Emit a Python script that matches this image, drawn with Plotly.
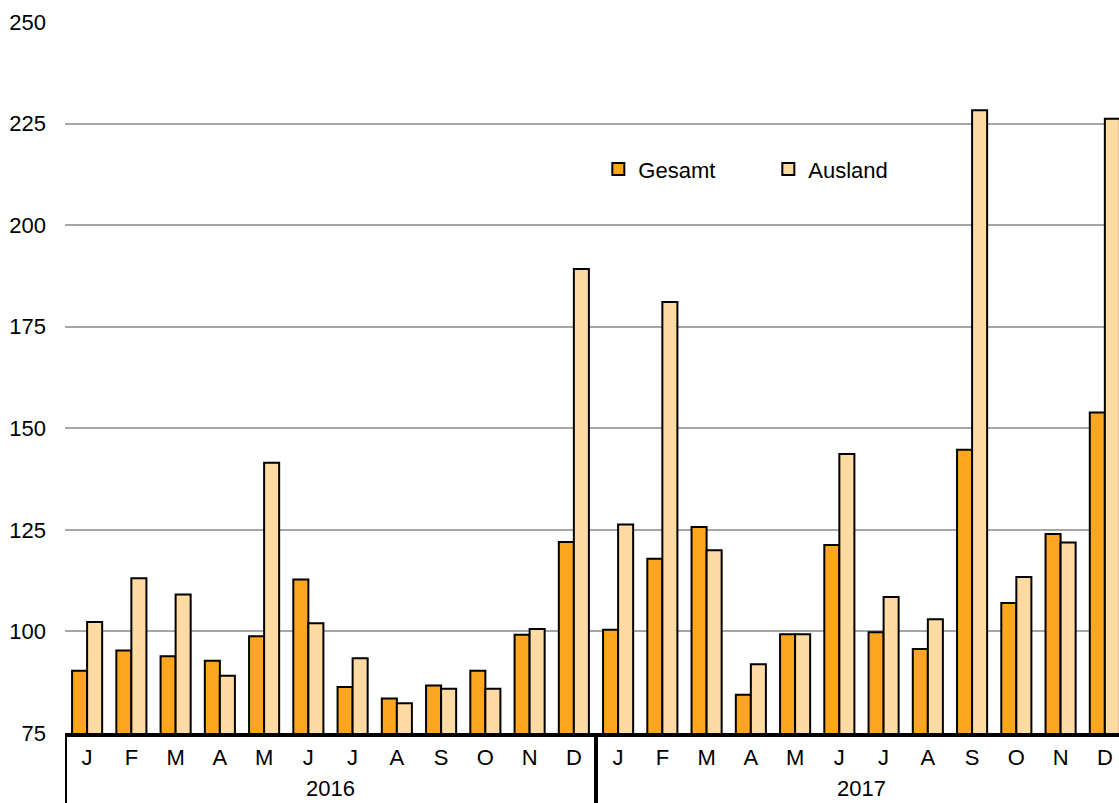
import plotly.graph_objects as go

months = ["J", "F", "M", "A", "M", "J", "J", "A", "S", "O", "N", "D"] * 2
years = ["2016", "2017"]
gesamt = [90.3, 95.3, 93.9, 92.8, 98.8, 112.8, 86.3, 83.5, 86.7, 90.3, 99.2, 122.0,
          100.4, 117.9, 125.7, 84.4, 99.3, 121.3, 99.8, 95.7, 144.7, 107.0, 124.0, 153.9]
ausland = [102.3, 113.1, 109.1, 89.1, 141.5, 102.0, 93.4, 82.3, 85.9, 85.9, 100.6, 189.2,
           126.3, 181.1, 120.0, 91.9, 99.3, 143.7, 108.5, 103.0, 228.3, 113.4, 121.9, 226.2]
y_ticks = [75, 100, 125, 150, 175, 200, 225, 250]

x = list(range(len(months)))
FONT = "Liberation Sans, Arial, sans-serif"

fig = go.Figure()
fig.add_trace(go.Bar(x=x, y=gesamt, name="Gesamt",
                     marker=dict(color="#FFA621", line=dict(color="black", width=2))))
fig.add_trace(go.Bar(x=x, y=ausland, name="Ausland",
                     marker=dict(color="#FFDBA4", line=dict(color="black", width=2))))

fig.update_layout(
    width=1119, height=803,
    margin=dict(l=65, r=0, t=22, b=70),
    paper_bgcolor="white", plot_bgcolor="white",
    barmode="group", bargap=0.32, bargroupgap=0,
    font=dict(family=FONT, size=22, color="black"),
    showlegend=True,
    legend=dict(orientation="h", x=0.506, y=0.793, xanchor="left", yanchor="middle",
                font=dict(size=22), entrywidth=125, entrywidthmode="pixels",
                bgcolor="rgba(0,0,0,0)", itemclick=False),
)
fig.update_yaxes(range=[75, 250], tickvals=y_ticks, showgrid=True,
                 gridcolor="#a6a6a6", gridwidth=1.6, zeroline=False,
                 showline=False, ticks="", ticklabelstandoff=18,
                 tickfont=dict(size=22))
fig.update_xaxes(range=[-0.5, 23.32], tickvals=x, ticktext=months,
                 showgrid=False, zeroline=False, showline=True,
                 linecolor="black", linewidth=4, ticks="", ticklabelstandoff=2,
                 tickfont=dict(size=22))

# year separators below the axis
for xv in [-0.5, 11.5]:
    fig.add_shape(type="line", xref="x", yref="paper", x0=xv, x1=xv,
                  y0=0, y1=-0.12, line=dict(color="black", width=4))

for i, yr in enumerate(years):
    fig.add_annotation(x=5.5 + 12 * i, xref="x", y=-0.099, yref="paper",
                       text=yr, showarrow=False, yanchor="bottom",
                       font=dict(size=22, family=FONT))

fig.write_html("out.html",
               config={"displayModeBar": False},
               post_script="document.body.style.margin='0';document.body.style.overflow='hidden';")
